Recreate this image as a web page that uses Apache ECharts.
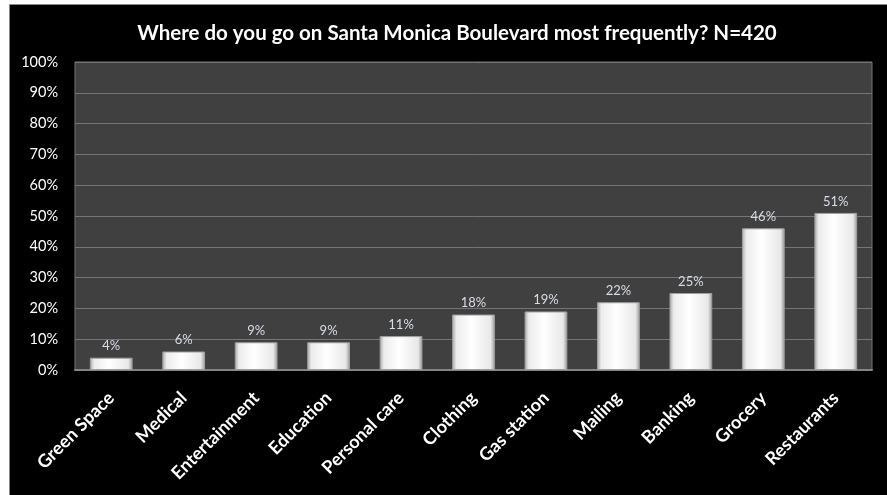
<!DOCTYPE html>
<html><head><meta charset="utf-8">
<script src="https://cdn.jsdelivr.net/npm/echarts@6/dist/echarts.min.js"></script>
<style>html,body{margin:0;padding:0;background:#fff}#c{width:887px;height:495px}</style>
</head><body><div id="c"></div>
<script>
const categories = ['Green Space','Medical','Entertainment','Education','Personal care','Clothing','Gas station','Mailing','Banking','Grocery','Restaurants'];
const values = [4, 6, 9, 9, 11, 18, 19, 22, 25, 46, 51];
const titleText = 'Where do you go on Santa Monica Boulevard most frequently? N=420';
const FONT = 'Lato, "Open Sans", sans-serif';

const chart = echarts.init(document.getElementById('c'));
chart.setOption({
  backgroundColor: '#ffffff',
  animation: false,
  graphic: [{
    type: 'rect', z: -10, silent: true,
    shape: {x: 9.5, y: 4.5, width: 880, height: 495},
    style: {fill: '#000000', stroke: '#8a8a8a', lineWidth: 1}
  }],
  title: {
    text: titleText, left: 452, top: 18, textAlign: 'center',
    textStyle: {color: '#ffffff', fontSize: 20.5, fontWeight: 'bold', fontFamily: FONT}
  },
  grid: {
    left: 75, top: 62, right: 15, bottom: 125,
    show: true, backgroundColor: '#404040', borderColor: '#757575', borderWidth: 1
  },
  xAxis: {
    type: 'category', data: categories,
    axisLine: {show: true, lineStyle: {color: '#858585', width: 2}},
    axisTick: {show: false},
    axisLabel: {
      interval: 0, rotate: 45, color: '#ffffff', fontSize: 18, fontWeight: 'bold',
      fontFamily: FONT, margin: 25
    }
  },
  yAxis: {
    type: 'value', min: 0, max: 100, interval: 10,
    axisLine: {show: false}, axisTick: {show: false},
    splitLine: {lineStyle: {color: '#757575', width: 1}},
    axisLabel: {formatter: '{value}%', color: '#ffffff', fontSize: 14.5, fontFamily: FONT, margin: 17}
  },
  series: [{
    type: 'bar', data: values, barWidth: '59%',
    itemStyle: {
      color: {
        type: 'linear', x: 0, y: 0, x2: 1, y2: 0,
        colorStops: [
          {offset: 0, color: '#a8a8a8'},
          {offset: 0.1, color: '#ececec'},
          {offset: 0.45, color: '#ffffff'},
          {offset: 0.9, color: '#e8e8e8'},
          {offset: 1, color: '#9a9a9a'}
        ]
      },
      borderColor: '#a0a0a0', borderWidth: 1
    },
    label: {
      show: true, position: 'top', distance: 5, formatter: '{c}%',
      color: '#d8dce6', fontSize: 13, fontFamily: FONT
    }
  }]
});
</script></body></html>
